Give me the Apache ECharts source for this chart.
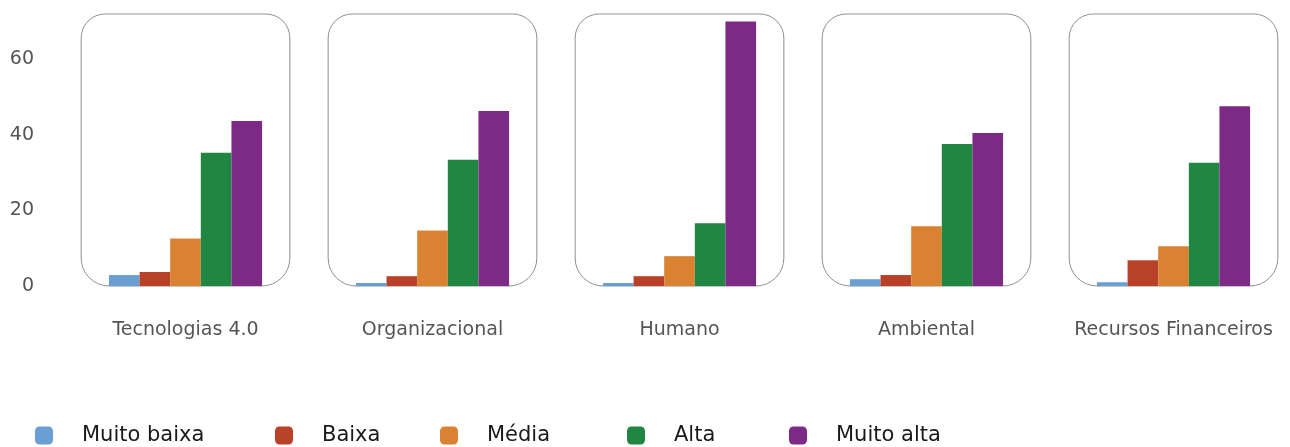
<!DOCTYPE html>
<html>
<head>
<meta charset="utf-8">
<script src="https://cdn.jsdelivr.net/npm/echarts@6/dist/echarts.min.js"></script>
<style>
html,body{margin:0;padding:0;background:#fff;}
#chart{width:1290px;height:447px;}
</style>
</head>
<body>
<div id="chart"></div>
<script>
const categories = ['Tecnologias 4.0', 'Organizacional', 'Humano', 'Ambiental', 'Recursos Financeiros'];
const seriesNames = ['Muito baixa', 'Baixa', 'Média', 'Alta', 'Muito alta'];
const muitoBaixa = [2.9, 0.8, 0.8, 1.8, 1.0];
const baixa = [3.7, 2.6, 2.6, 2.9, 6.8];
const media = [12.6, 14.7, 7.9, 15.8, 10.5];
const alta = [35.3, 33.4, 16.6, 37.6, 32.6];
const muitoAlta = [43.7, 46.3, 70.0, 40.5, 47.6];
const yTicks = [0, 20, 40, 60];
const yMax = 72;

const colors = ['#6a9fd4', '#b84127', '#d98332', '#218642', '#7d2a87'];
const values = [muitoBaixa, baixa, media, alta, muitoAlta];
const FONT = 'DejaVu Sans';

const chart = echarts.init(document.getElementById('chart'));

const legendLefts = [35, 275, 440, 627, 789];
const legends = seriesNames.map((n, i) => ({
  data: [n],
  left: legendLefts[i],
  top: 425,
  orient: 'horizontal',
  icon: 'roundRect',
  itemWidth: 18,
  itemHeight: 18,
  padding: 0,
  itemStyle: { borderRadius: 4 },
  textStyle: { fontFamily: FONT, fontSize: 21, color: '#1a1a1a', padding: [0, 0, 0, 24] }
}));

const barSeries = seriesNames.map((n, i) => ({
  name: n,
  type: 'bar',
  data: values[i],
  itemStyle: { color: colors[i] },
  barGap: '0%',
  barCategoryGap: '38%',
  z: 3,
  emphasis: { disabled: true }
}));

const boxSeries = {
  type: 'custom',
  name: 'box',
  z: 1,
  silent: true,
  data: categories.map((c, i) => [i, yMax]),
  encode: { x: 0, y: 1 },
  renderItem: function (params, api) {
    const idx = api.value(0);
    const top = api.coord([idx, api.value(1)]);
    const bot = api.coord([idx, 0]);
    const w = api.size([1, 0])[0] * 0.845;
    return {
      type: 'rect',
      shape: { x: top[0] - w / 2, y: top[1], width: w, height: bot[1] - top[1], r: [24, 24, 28, 28] },
      style: { fill: 'none', stroke: '#8f8f8f', lineWidth: 1 }
    };
  }
};

chart.setOption({
  animation: false,
  color: colors,
  grid: { left: 62, width: 1235, top: 14, height: 272, containLabel: false, outerBoundsMode: 'none' },
  legend: legends,
  xAxis: {
    type: 'category',
    data: categories,
    axisLine: { show: false },
    axisTick: { show: false },
    axisLabel: { fontFamily: FONT, fontSize: 19, color: '#555', margin: 35, interval: 0, hideOverlap: false }
  },
  yAxis: {
    type: 'value',
    min: 0,
    max: yMax,
    interval: 20,
    axisLine: { show: false },
    axisTick: { show: false },
    splitLine: { show: false },
    axisLabel: {
      fontFamily: FONT, fontSize: 19, color: '#555', margin: 28,
      formatter: v => (yTicks.indexOf(v) >= 0 ? String(v) : '')
    }
  },
  series: [boxSeries].concat(barSeries)
});
</script>
</body>
</html>
